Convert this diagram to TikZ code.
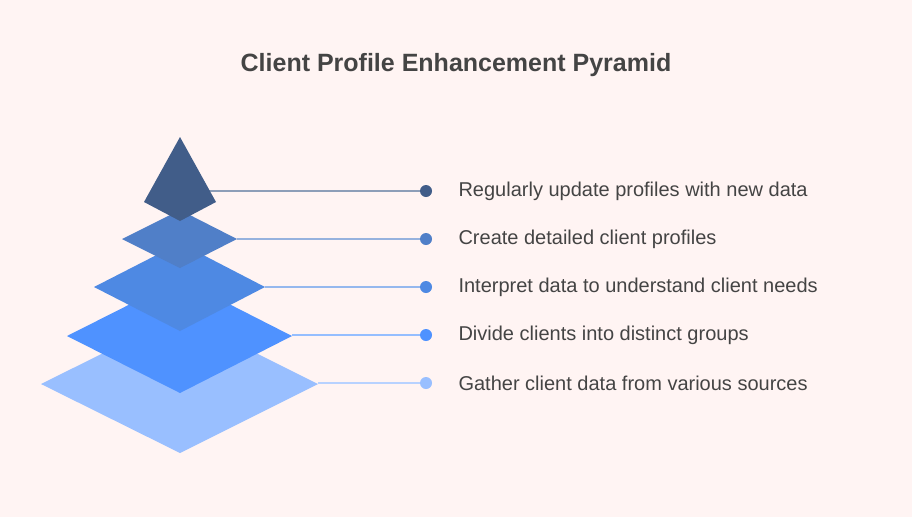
\documentclass[tikz,border=0pt]{standalone}
\usepackage{fontspec}
\setmainfont{Liberation Sans}
\definecolor{bgc}{HTML}{FFF4F3}
\definecolor{txt}{HTML}{444444}
\definecolor{c1}{HTML}{99BFFF}
\definecolor{c2}{HTML}{4F92FF}
\definecolor{c3}{HTML}{4E89E3}
\definecolor{c4}{HTML}{507FC8}
\definecolor{c5}{HTML}{415D89}
\begin{document}
\begin{tikzpicture}[x=1pt,y=-1pt,
  lbl/.style={anchor=west,text=txt,font=\fontsize{20}{24}\selectfont},
  dot/.style={circle,inner sep=0pt,minimum size=12pt}]
   \fill[bgc] (0,0) rectangle (912,517);
   \useasboundingbox (0,0) rectangle (912,517);
   \node[text=txt,font=\bfseries\fontsize{25}{30}\selectfont] (title) at (456,65) {Client Profile Enhancement Pyramid};

   % dots and labels
   \node[dot,fill=c5] (d5) at (426,191) {};
   \node[dot,fill=c4] (d4) at (426,239) {};
   \node[dot,fill=c3] (d3) at (426,287) {};
   \node[dot,fill=c2] (d2) at (426,335) {};
   \node[dot,fill=c1] (d1) at (426,383) {};
   \node[lbl] (t5) at (455,191) {Regularly update profiles with new data};
   \node[lbl] (t4) at (455,239) {Create detailed client profiles};
   \node[lbl] (t3) at (455,287) {Interpret data to understand client needs};
   \node[lbl] (t2) at (455,335) {Divide clients into distinct groups};
   \node[lbl] (t1) at (455,383) {Gather client data from various sources};

   \coordinate (p5) at (180,191);
   \coordinate (p4) at (237,239);
   \coordinate (p3) at (265,287);
   \coordinate (p2) at (292,335);
   \coordinate (p1) at (318,383);
   \draw[c5!60,line width=1.2pt] (p5) -- (d5);
   \draw[c4!60,line width=1.2pt] (p4) -- (d4);
   \draw[c3!60,line width=1.2pt] (p3) -- (d3);
   \draw[c2!60,line width=1.2pt] (p2) -- (d2);
   \draw[c1!70,line width=1.2pt] (p1) -- (d1);

   % layers
   \fill[c1] (41,384) -- (180,315) -- (318,384) -- (180,453) -- cycle;
   \fill[c2] (67,336) -- (180,279) -- (292,336) -- (180,393) -- cycle;
   \fill[c3] (94,287) -- (180,243) -- (265,287) -- (180,331) -- cycle;
   \fill[c4] (122,239) -- (180,210) -- (237,239) -- (180,268) -- cycle;
   \fill[c5] (144,202) -- (180,137) -- (216,202) -- (180,221) -- cycle;
\end{tikzpicture}
\end{document}
